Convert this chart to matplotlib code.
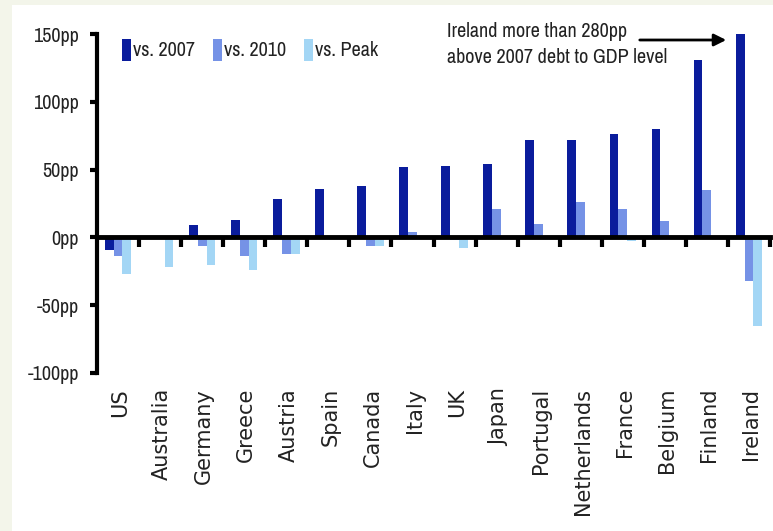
import numpy as np
import matplotlib.pyplot as plt
from matplotlib import font_manager
from matplotlib.patches import Rectangle

countries = ['US', 'Australia', 'Germany', 'Greece', 'Austria', 'Spain', 'Canada', 'Italy',
             'UK', 'Japan', 'Portugal', 'Netherlands', 'France', 'Belgium', 'Finland', 'Ireland']
vs_2007 = [-9, 0.5, 9, 13, 28, 36, 38, 52, 53, 54, 72, 72, 76, 80, 131, 280]
vs_2010 = [-14, 0, -6, -14, -12, 0, -6, 4, -2, 21, 10, 26, 21, 12, 35, -32]
vs_peak = [-27, -22, -20, -24, -12, 0, -6, 0, -8, 0, 0, 0, -3, -1, 0, -65]
yticks = [-100, -50, 0, 50, 100, 150]

c_dark = '#0a1c9c'
c_mid = '#7592e6'
c_light = '#a3d6f5'

# pick a condensed face if one is installed
names = sorted({f.name for f in font_manager.fontManager.ttflist})
cond = [n for n in names if 'Narrow' in n or 'Condensed' in n]
narrow = cond[:1] + ['Liberation Sans', 'DejaVu Sans']

fig = plt.figure(figsize=(7.73, 5.31), dpi=100)
fig.patch.set_facecolor('#f3f5ea')
bg = Rectangle((12 / 773, 0), 1, 1 - 5 / 531, transform=fig.transFigure,
               facecolor='white', edgecolor='none', zorder=-10)
fig.patches.append(bg)
ax = fig.add_axes([97 / 773, 1 - 373 / 531, 673 / 773, 339 / 531])
ax.set_facecolor('none')
ax.set_zorder(2)

x = np.arange(len(countries))
w = 0.21
ax.bar(x - w, vs_2007, w, color=c_dark, label='vs. 2007')
ax.bar(x, vs_2010, w, color=c_mid, label='vs. 2010')
ax.bar(x + w, vs_peak, w, color=c_light, label='vs. Peak')

ax.set_xlim(-0.5, len(countries) - 0.5)
ax.set_ylim(-100, 150)

for s in ['top', 'right']:
    ax.spines[s].set_visible(False)
ax.spines['left'].set_linewidth(3)
ax.spines['bottom'].set_position(('data', 0))
ax.spines['bottom'].set_linewidth(3.5)
ax.spines['bottom'].set_zorder(5)

ax.set_yticks(yticks)
ax.set_yticklabels([f'{v}pp' for v in yticks], family=narrow, fontsize=14.5, color='#222222')
ax.tick_params(axis='y', direction='out', length=5, width=3, pad=8)

ax.set_xticks(x + 0.5)
ax.set_xticklabels([])
ax.tick_params(axis='x', direction='out', length=7, width=3)

for i, name in enumerate(countries):
    ax.text(i + 0.05, -0.044, name, rotation=90, ha='center', va='top', fontsize=15,
            family='DejaVu Sans', color='#222222', transform=ax.get_xaxis_transform())

leg = ax.legend(loc='upper left', ncol=3, frameon=False, bbox_to_anchor=(0.01, 1.04),
                handlelength=0.45, handleheight=1.3, handletextpad=0.1, columnspacing=0.9,
                prop={'family': narrow, 'size': 14.5})
for t in leg.get_texts():
    t.set_color('#222222')

fig.text(447 / 773, 1 - 22 / 531, 'Ireland more than 280pp\nabove 2007 debt to GDP level',
         ha='left', va='top', family=narrow, fontsize=14.5, color='#222222', linespacing=1.45)
ax.annotate('', xy=(729 / 773, 1 - 40 / 531), xytext=(637 / 773, 1 - 40 / 531),
            xycoords='figure fraction', textcoords='figure fraction',
            arrowprops=dict(arrowstyle='-|>', color='black', lw=2, mutation_scale=18))

fig.savefig('out.png', dpi=100)
